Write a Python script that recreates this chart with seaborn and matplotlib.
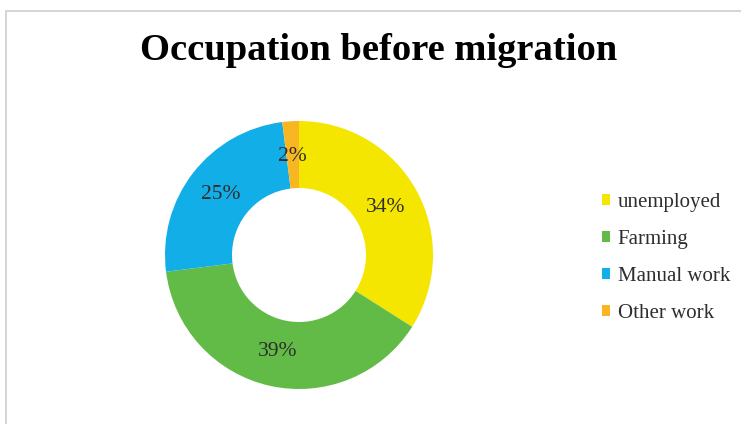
import matplotlib
matplotlib.use("Agg")
import matplotlib.pyplot as plt
from matplotlib.patches import Patch, Rectangle
import numpy as np
import seaborn as sns

# Occupation shares before migration (percent)
categories = ["unemployed", "Farming", "Manual work", "Other work"]
shares = [34, 39, 25, 2]
colors = ["#F4E600", "#63BB47", "#12AEE8", "#F8B622"]
title = "Occupation before migration"

sns.set_theme(style="white")
plt.rcParams["font.family"] = ["Liberation Serif", "DejaVu Serif"]

W, H = 741, 424
fig = plt.figure(figsize=(W / 100, H / 100), dpi=100)
fig.patch.set_facecolor("white")

# Light chart frame
fig.add_artist(Rectangle((6 / W, -0.05), 1.2, 1 - 11 / H + 0.05,
                         transform=fig.transFigure, fill=False,
                         edgecolor="#d4d4d4", linewidth=1.4))

# Donut axes
cx, cy, r = 299, 255, 134
ax = fig.add_axes([(cx - r) / W, (H - cy - r) / H, 2 * r / W, 2 * r / H])
palette = sns.color_palette(colors)
wedges, _ = ax.pie(shares, colors=palette, startangle=90, counterclock=False,
                   radius=1.0, wedgeprops=dict(width=0.5, linewidth=0))
ax.set_xlim(-1, 1)
ax.set_ylim(-1, 1)
ax.set_aspect("equal")
ax.axis("off")

# Percent labels at mid-ring
total = sum(shares)
angle = 90.0
for val in shares:
    sweep = 360.0 * val / total
    mid = np.deg2rad(angle - sweep / 2)
    ax.text(0.74 * np.cos(mid), 0.74 * np.sin(mid), f"{val}%",
            ha="center", va="center", fontsize=15.5, color="#2e2e2e")
    angle -= sweep

fig.text(379 / W, 1 - 51 / H, title, ha="center", va="center",
         fontsize=27.7, fontweight="bold", color="black")

handles = [Patch(facecolor=c, edgecolor="none") for c in palette]
leg = fig.legend(handles, categories, loc="center left",
                 bbox_to_anchor=(602 / W, 1 - 258 / H), frameon=False,
                 fontsize=15, handlelength=0.4, handleheight=0.4,
                 handletextpad=0.35, labelspacing=0.87, borderpad=0,
                 borderaxespad=0)
for t in leg.get_texts():
    t.set_color("#2e2e2e")

fig.savefig("out.png", dpi=100, facecolor="white")
